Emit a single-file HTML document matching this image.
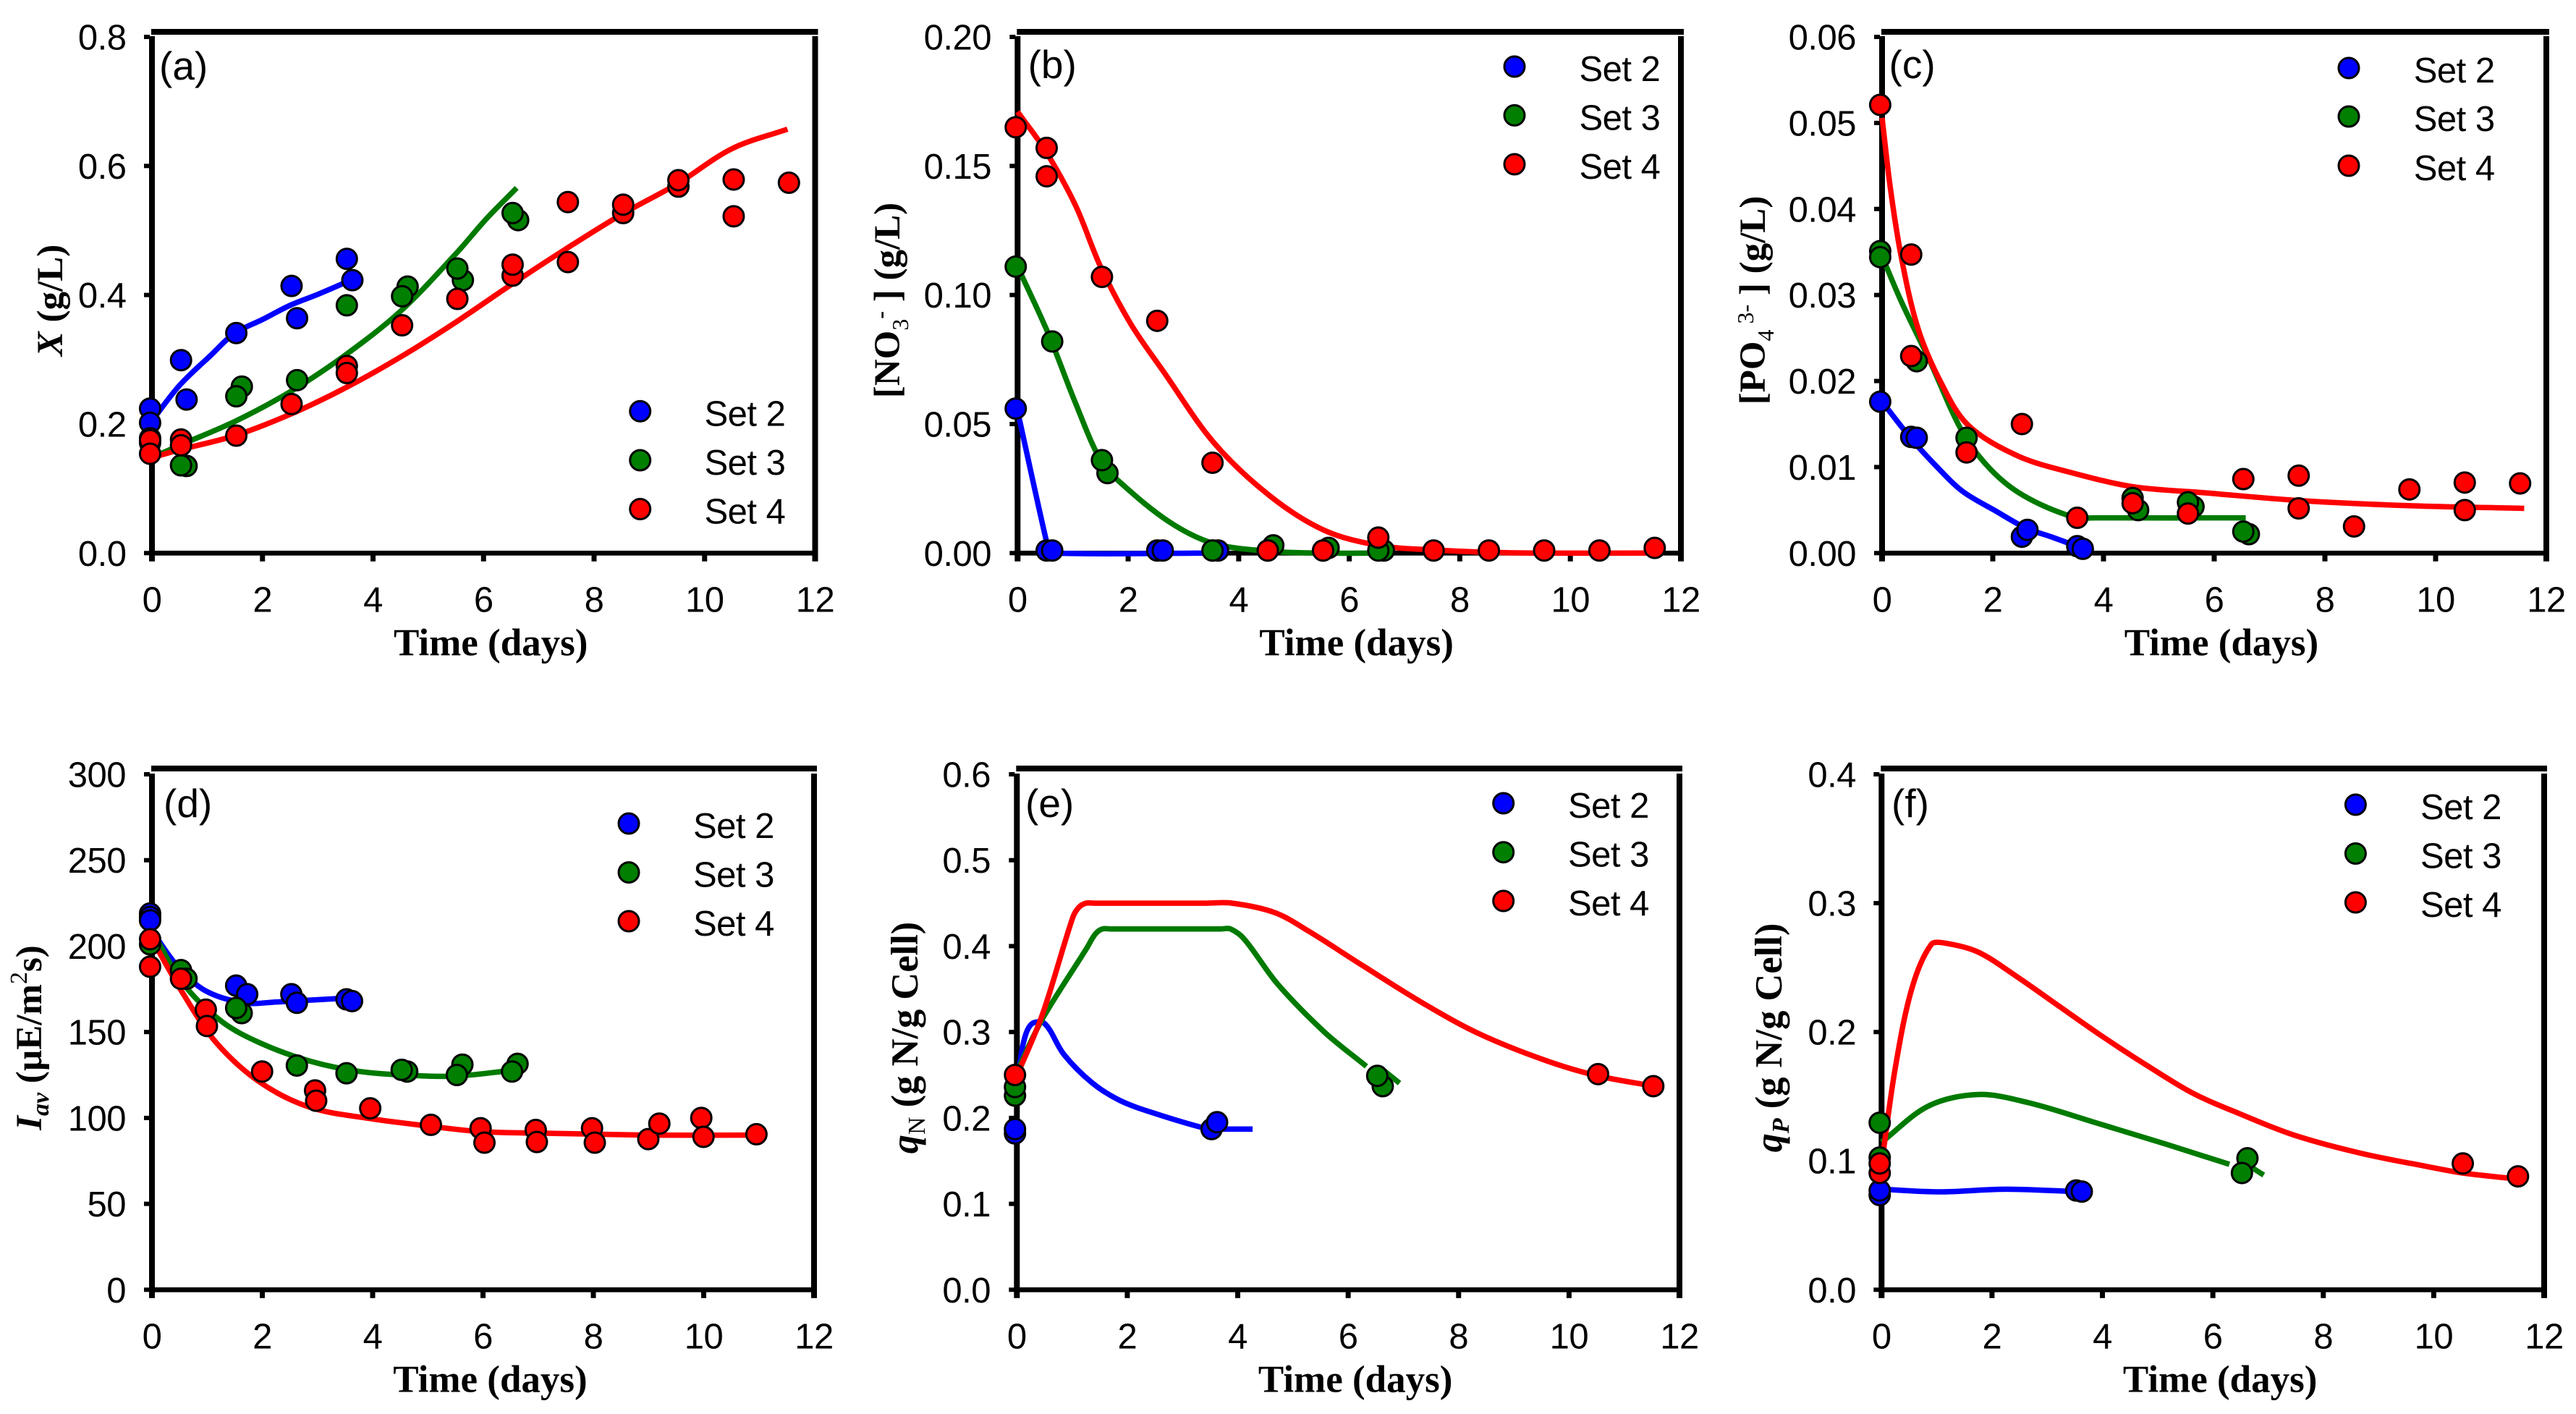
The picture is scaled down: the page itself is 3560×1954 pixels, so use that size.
<!DOCTYPE html>
<html>
<head>
<meta charset="utf-8">
<style>
html,body{margin:0;padding:0;background:#fff;}
svg{display:block;}
.tick{font-family:"Liberation Sans",sans-serif;font-size:49px;letter-spacing:-0.5px;fill:#000;}
.ttl{font-family:"Liberation Serif",serif;font-weight:bold;font-size:51px;fill:#000;}
.xttl{font-size:53px;}
.wide{font-size:52.5px;}
.tag{font-family:"Liberation Sans",sans-serif;font-size:55px;fill:#000;}
</style>
</head>
<body>
<svg id="fig" xmlns="http://www.w3.org/2000/svg" width="3560" height="1954" viewBox="0 0 3560 1954">
<rect width="3560" height="1954" fill="#fff"/>
<g id="plots"></g>
<g>
<text class="ttl" transform="translate(86 415) rotate(-90)" text-anchor="middle"><tspan font-style="italic">X</tspan> (g/L)</text>
<text class="ttl" transform="translate(1243 415) rotate(-90)" text-anchor="middle">[NO<tspan font-size="32" font-weight="normal" dy="12">3</tspan><tspan font-size="32" dy="-28">-</tspan><tspan dy="16"> ] (g/L)</tspan></text>
<text class="ttl" transform="translate(2439 415) rotate(-90)" text-anchor="middle">[PO<tspan font-size="32" font-weight="normal" dy="12">4</tspan><tspan font-size="32" font-weight="normal" dy="-28"> 3-</tspan><tspan dy="16"> ] (g/L)</tspan></text>
<text class="ttl" transform="translate(57 1434) rotate(-90)" text-anchor="middle"><tspan font-style="italic">I</tspan><tspan font-style="italic" font-size="34" dy="10">av</tspan><tspan dy="-10">  (µE/m</tspan><tspan font-size="34" font-weight="normal" dy="-20">2</tspan><tspan dy="20">s)</tspan></text>
<text class="ttl wide" transform="translate(1268 1434) rotate(-90)" text-anchor="middle"><tspan font-style="italic">q</tspan><tspan font-size="34" font-weight="normal" dy="10">N</tspan><tspan dy="-10"> (g N/g Cell)</tspan></text>
<text class="ttl wide" transform="translate(2462 1434) rotate(-90)" text-anchor="middle"><tspan font-style="italic">q</tspan><tspan font-style="italic" font-size="34" dy="10">P</tspan><tspan dy="-10"> (g N/g Cell)</tspan></text>
</g>
</svg>
<script>
const xTickLabels=['0','2','4','6','8','10','12'];
const aYTickLabels=['0.0','0.2','0.4','0.6','0.8'];
const bYTickLabels=['0.00','0.05','0.10','0.15','0.20'];
const cYTickLabels=['0.00','0.01','0.02','0.03','0.04','0.05','0.06'];
const dYTickLabels=['0','50','100','150','200','250','300'];
const eYTickLabels=['0.0','0.1','0.2','0.3','0.4','0.5','0.6'];
const fYTickLabels=['0.0','0.1','0.2','0.3','0.4'];

const aSet2X=[-0.06,-0.06,0.5,0.6,1.5,2.5,2.6,3.5,3.6];
const aSet2Y=[0.224,0.202,0.299,0.238,0.341,0.414,0.364,0.456,0.423];
const aSet3X=[-0.06,-0.06,0.6,0.5,1.6,1.5,2.6,3.5,4.6,4.5,5.6,5.5,6.6,6.5];
const aSet3Y=[0.178,0.171,0.135,0.136,0.258,0.243,0.268,0.384,0.413,0.398,0.423,0.441,0.516,0.527];
const aSet4X=[-0.06,-0.06,0.5,0.5,1.5,2.5,3.5,3.5,4.5,5.5,6.5,6.5,7.5,7.5,8.5,8.5,9.5,9.5,10.5,10.5,11.5];
const aSet4Y=[0.175,0.154,0.176,0.167,0.182,0.231,0.29,0.279,0.353,0.394,0.43,0.447,0.544,0.451,0.527,0.54,0.568,0.578,0.579,0.522,0.574];
const aCurve2X=[0,0.5,1.07,1.5,2,2.5,3,3.6];
const aCurve2Y=[0.205,0.26,0.307,0.341,0.362,0.384,0.401,0.423];
const aCurve3X=[0,0.5,1.5,2.5,3.5,4.5,5.5,6.05,6.6];
const aCurve3Y=[0.148,0.167,0.204,0.25,0.307,0.375,0.464,0.518,0.566];
const aCurve4X=[0,0.5,1.5,2.5,3.5,4.5,5.5,6.5,7.5,8.5,9.5,10.5,11.5];
const aCurve4Y=[0.148,0.16,0.182,0.215,0.256,0.304,0.358,0.416,0.472,0.525,0.572,0.627,0.657];

const bSet2X=[-0.06,0.5,0.6,2.5,2.6,3.5,3.6];
const bSet2Y=[0.056,0.001,0.001,0.001,0.001,0.001,0.001];
const bSet3X=[-0.06,0.6,1.6,1.5,3.5,4.6,4.5,5.6,5.5,6.6,6.5];
const bSet3Y=[0.111,0.082,0.031,0.036,0.001,0.003,0.001,0.002,0.001,0.001,0.001];
const bSet4X=[-0.06,0.5,0.5,1.5,2.5,3.5,4.5,5.5,6.5,7.5,8.5,9.5,10.5,11.5];
const bSet4Y=[0.165,0.157,0.146,0.107,0.09,0.035,0.001,0.001,0.006,0.001,0.001,0.001,0.001,0.002];
const bCurve2X=[0,0.55,0.6,3.6];
const bCurve2Y=[0.055,0.002,0,0];
const bCurve3X=[0,0.55,1.05,1.5,1.85,2.75,3.55,4.55,5.5,6.65];
const bCurve3Y=[0.111,0.0853,0.058,0.036,0.0275,0.012,0.0037,0.0007,0,0];
const bCurve4X=[0,0.5,1.05,1.5,2.05,2.65,3.55,4.55,5.55,6.55,7.55,8.55,9.55,11.5];
const bCurve4Y=[0.171,0.156,0.1346,0.111,0.0887,0.07,0.0428,0.0224,0.0088,0.0029,0.0012,0.0003,0,0];

const cSet2X=[-0.06,0.5,0.6,2.5,2.6,3.5,3.6];
const cSet2Y=[0.0176,0.0135,0.0134,0.0019,0.0027,0.0008,0.0005];
const cSet3X=[-0.06,-0.06,0.6,1.5,4.6,4.5,5.6,5.5,6.6,6.5];
const cSet3Y=[0.0351,0.0344,0.0223,0.0134,0.005,0.0064,0.0054,0.0059,0.0022,0.0025];
const cSet4X=[-0.06,0.5,0.5,1.5,2.5,3.5,4.5,5.5,6.5,7.5,7.5,8.5,9.5,10.5,10.5,11.5];
const cSet4Y=[0.0521,0.0347,0.0229,0.0117,0.015,0.0041,0.0058,0.0046,0.0086,0.009,0.0052,0.0031,0.0074,0.0082,0.005,0.0081];
const cCurve2X=[0,0.5,0.95,1.45,2.05,2.6,3.05,3.6];
const cCurve2Y=[0.0176,0.0135,0.0103,0.0072,0.0049,0.0029,0.0019,0.0006];
const cCurve3X=[0,0.35,0.85,1.45,1.95,2.55,3.45,3.85,6.57];
const cCurve3Y=[0.0345,0.0292,0.0225,0.0141,0.0098,0.0067,0.0042,0.0041,0.0041];
const cCurve4X=[0,0.15,0.35,0.65,1.05,1.55,2.45,3.45,4.55,5.85,7.55,9.55,11.6];
const cCurve4Y=[0.0506,0.0424,0.0343,0.0261,0.02,0.0149,0.0113,0.0093,0.0077,0.007,0.0061,0.0055,0.0052];

const dSet2X=[-0.06,-0.06,-0.06,1.5,1.7,2.5,2.6,3.5,3.6];
const dSet2Y=[219,217,215,177,172,172,167,169,168];
const dSet3X=[-0.06,0.5,0.6,1.6,1.5,2.6,3.5,4.6,4.5,5.6,5.5,6.6,6.5];
const dSet3Y=[201,186,181,161,164,130.5,126,127,128,131,125,131.5,127];
const dSet4X=[-0.06,-0.06,0.5,0.95,0.97,1.97,2.93,2.95,3.93,5.03,5.93,6,6.93,6.95,7.95,8,8.97,9.17,9.93,9.97,10.93];
const dSet4Y=[204,188,181,163,153.5,127,116,110,105.6,96,94,85.6,93,86,94,85.6,87.7,96.7,100,89,90.5];
const dCurve2X=[0,0.47,0.97,1.67,2.27,3.64];
const dCurve2Y=[209,188,174,167,167.5,170];
const dCurve3X=[0,0.57,1.27,1.97,2.87,3.78,4.88,5.58,6.53];
const dCurve3Y=[209,178,156,143.5,133,127,124.5,124.5,127.7];
const dCurve4X=[0,0.57,1.17,1.97,2.88,3.98,4.98,5.98,7.29,9,10.93];
const dCurve4Y=[204,172,143.6,120.5,106,99.5,95.4,92,91,90,90];

const eSet2X=[-0.06,-0.06,3.5,3.6];
const eSet2Y=[0.182,0.187,0.187,0.195];
const eSet3X=[-0.06,-0.06,6.6,6.5];
const eSet3Y=[0.226,0.236,0.237,0.249];
const eSet4X=[-0.06,10.5,11.5];
const eSet4Y=[0.25,0.251,0.237];
const eCurve2X=[0,0.11,0.26,0.5,0.85,1.36,1.86,2.46,3.47,3.7,4.27];
const eCurve2Y=[0.233,0.285,0.309,0.31,0.274,0.241,0.2205,0.206,0.187,0.187,0.187];
const eCurve3X=[0,0.46,1.26,1.42,1.55,1.7,2.7,3.7,3.87,4.12,4.72,5.57,6.33,null,6.65,6.93];
const eCurve3Y=[0.254,0.315,0.397,0.414,0.42,0.42,0.42,0.42,0.42,0.408,0.356,0.3,0.26,null,0.255,0.2405];
const eCurve4X=[0,0.46,1.01,1.12,1.25,1.4,2.4,3.4,3.9,4.67,5.27,6.27,7.37,8.37,9.57,10.52,11.53];
const eCurve4Y=[0.249,0.32,0.433,0.445,0.45,0.45,0.45,0.45,0.45,0.439,0.418,0.377,0.333,0.298,0.267,0.249,0.237];

const fSet2X=[-0.06,-0.06,3.5,3.6];
const fSet2Y=[0.0735,0.077,0.077,0.0762];
const fSet3X=[-0.06,-0.06,6.6,6.5];
const fSet3Y=[0.1296,0.1026,0.102,0.0906];
const fSet4X=[-0.06,-0.06,10.5,11.5];
const fSet4Y=[0.0906,0.098,0.098,0.088];
const fCurve2X=[0,1.05,2.25,3.63];
const fCurve2Y=[0.078,0.076,0.078,0.076];
const fCurve3X=[0,0.85,1.75,2.65,3.85,5.15,6.3,null,6.7,6.92];
const fCurve3Y=[0.1145,0.1426,0.1515,0.1453,0.13,0.113,0.0974,null,0.095,0.089];
const fCurve4X=[0,0.25,0.55,0.9,1.15,1.75,2.45,3.25,3.95,4.86,5.66,6.46,7.47,8.67,9.87,10.53,11.5];
const fCurve4Y=[0.0974,0.1726,0.234,0.268,0.269,0.262,0.243,0.219,0.198,0.1726,0.152,0.137,0.12,0.106,0.0957,0.0906,0.086];

const setNames=['Set 2','Set 3','Set 4'];
const markerFill=['#0000ff','#007f00','#ff0000'];
const lineColor=['#0000ff','#007a00','#ff0000'];

const panels=[
 {id:'a',x0:210,x12:1126.5,yB:764.3,yT:51,top:44,labels:aYTickLabels,labelEnd:174.5,panelX:220,panelY:110,legX:884.7,legY:[568.3,636,703.5],legTx:973.5,
  sets:[[aSet2X,aSet2Y,aCurve2X,aCurve2Y],[aSet3X,aSet3Y,aCurve3X,aCurve3Y],[aSet4X,aSet4Y,aCurve4X,aCurve4Y]]},
 {id:'b',x0:1406.3,x12:2323,yB:764.3,yT:51,top:44,labels:bYTickLabels,labelEnd:1370,panelX:1420.6,panelY:108,legX:2093,legY:[92,159.4,227],legTx:2182.5,
  sets:[[bSet2X,bSet2Y,bCurve2X,bCurve2Y],[bSet3X,bSet3Y,bCurve3X,bCurve3Y],[bSet4X,bSet4Y,bCurve4X,bCurve4Y]]},
 {id:'c',x0:2601,x12:3519,yB:764.3,yT:51,top:44,labels:cYTickLabels,labelEnd:2565,panelX:2610.5,panelY:108,legX:3246,legY:[94,161,229],legTx:3335.7,
  sets:[[cSet2X,cSet2Y,cCurve2X,cCurve2Y],[cSet3X,cSet3Y,cCurve3X,cCurve3Y],[cSet4X,cSet4Y,cCurve4X,cCurve4Y]]},
 {id:'d',x0:210,x12:1125,yB:1782.3,yT:1070,top:1062,labels:dYTickLabels,labelEnd:174,panelX:226,panelY:1129,legX:869,legY:[1138,1205.6,1273],legTx:958,
  sets:[[dSet2X,dSet2Y,dCurve2X,dCurve2Y],[dSet3X,dSet3Y,dCurve3X,dCurve3Y],[dSet4X,dSet4Y,dCurve4X,dCurve4Y]]},
 {id:'e',x0:1405.3,x12:2321,yB:1782.3,yT:1070,top:1062,labels:eYTickLabels,labelEnd:1369,panelX:1417,panelY:1129,legX:2077.7,legY:[1110,1177.7,1245],legTx:2167,
  sets:[[eSet2X,eSet2Y,eCurve2X,eCurve2Y],[eSet3X,eSet3Y,eCurve3X,eCurve3Y],[eSet4X,eSet4Y,eCurve4X,eCurve4Y]]},
 {id:'f',x0:2600.3,x12:3516,yB:1782.3,yT:1070,top:1062,labels:fYTickLabels,labelEnd:2565,panelX:2614,panelY:1129,legX:3255.4,legY:[1112,1179.5,1247],legTx:3345,
  sets:[[fSet2X,fSet2Y,fCurve2X,fCurve2Y],[fSet3X,fSet3Y,fCurve3X,fCurve3Y],[fSet4X,fSet4Y,fCurve4X,fCurve4Y]]}
];

const NS='http://www.w3.org/2000/svg';
const root=document.getElementById('plots');
function mk(parent,tag,attrs,text){
  const el=document.createElementNS(NS,tag);
  for(const k in attrs)el.setAttribute(k,attrs[k]);
  if(text!==undefined)el.textContent=text;
  parent.appendChild(el);
  return el;
}
function dist(a,b){return Math.hypot(a[0]-b[0],a[1]-b[1]);}
function smoothPath(xs,ys,sx,sy){
  let segs=[],cur=[];
  xs.forEach((v,i)=>{
    if(v===null){if(cur.length)segs.push(cur);cur=[];}
    else cur.push([sx(v),sy(ys[i])]);
  });
  if(cur.length)segs.push(cur);
  return segs.map(p=>{
    let d='M'+p[0][0].toFixed(1)+' '+p[0][1].toFixed(1);
    for(let i=0;i<p.length-1;i++){
      const a=p[Math.max(i-1,0)],b=p[i],c=p[i+1],e=p[Math.min(i+2,p.length-1)];
      const m=dist(b,c),k1=m/((dist(a,b)+m)||1)/3,k2=m/((m+dist(c,e))||1)/3;
      d+='C'+(b[0]+(c[0]-a[0])*k1).toFixed(1)+' '+(b[1]+(c[1]-a[1])*k1).toFixed(1)+' '+(c[0]-(e[0]-b[0])*k2).toFixed(1)+' '+(c[1]-(e[1]-b[1])*k2).toFixed(1)+' '+c[0].toFixed(1)+' '+c[1].toFixed(1);
    }
    return d;
  }).join('');
}
panels.forEach(p=>{
  const yVals=p.labels.map(Number);
  const yMax=Math.max(...yVals);
  const sx=v=>p.x0+(p.x12-p.x0)*v/12;
  const sy=v=>p.yB-(p.yB-p.yT)*v/yMax;
  const g=mk(root,'g',{});
  
  

  const frame=mk(g,'g',{fill:'#000'});
  
  
  mk(frame,'rect',{x:p.x0-1,y:p.top-4,width:p.x12-p.x0+5,height:8});
  mk(frame,'rect',{x:p.x0-4,y:p.yT-1,width:8,height:p.yB-p.yT+3});
  mk(frame,'rect',{x:p.x12-4,y:p.yT-1,width:8,height:p.yB-p.yT+3});
  mk(frame,'rect',{x:p.x0-4,y:p.yB-3.3,width:p.x12-p.x0+8,height:6.7});

  const yAxis=mk(g,'g',{});
  
  
  p.labels.forEach(t=>{
    const y=sy(Number(t));
    mk(yAxis,'rect',{x:p.x0-11,y:y-3,width:8,height:6,fill:'#000'});
    const lab=mk(yAxis,'text',{class:'tick',x:p.labelEnd,y:y+17.5,'text-anchor':'end'},t);
    
    
  });

  const xAxis=mk(g,'g',{});
  
  
  xTickLabels.forEach((t,i)=>{
    const x=sx(Number(t));
    const w=(i===0||i===6)?8:7;
    mk(xAxis,'rect',{x:x-w/2,y:p.yB+2,width:w,height:9.5,fill:'#000'});
    const lab=mk(xAxis,'text',{class:'tick',x:x,y:p.yB+81,'text-anchor':'middle'},t);
    
    
  });
  const xt=mk(xAxis,'text',{class:'ttl xttl',x:(p.x0+p.x12)/2+10,y:p.yB+141,'text-anchor':'middle'},'Time (days)');
  
  

  p.sets.forEach((s,i)=>{
    const c=mk(g,'path',{d:smoothPath(s[2],s[3],sx,sy),fill:'none',stroke:lineColor[i],'stroke-width':7.5,'stroke-linejoin':'round'});
    
    
  });
  p.sets.forEach((s,i)=>{
    const pts=mk(g,'g',{});
    
    
    s[0].forEach((v,j)=>{
      const m=mk(pts,'circle',{cx:sx(v)+2,cy:sy(s[1][j]),r:14,fill:markerFill[i],stroke:'#000','stroke-width':3});
      
      
    });
  });

  const tag=mk(g,'text',{class:'tag',x:p.panelX,y:p.panelY},'('+p.id+')');
  
  

  const leg=mk(g,'g',{});
  
  
  setNames.forEach((n,i)=>{
    const e=mk(leg,'g',{});
    
    
    mk(e,'circle',{cx:p.legX,cy:p.legY[i],r:14,fill:markerFill[i],stroke:'#000','stroke-width':3});
    mk(e,'text',{class:'tick',x:p.legTx,y:p.legY[i]+20},n);
  });
});
</script>
</body>
</html>
